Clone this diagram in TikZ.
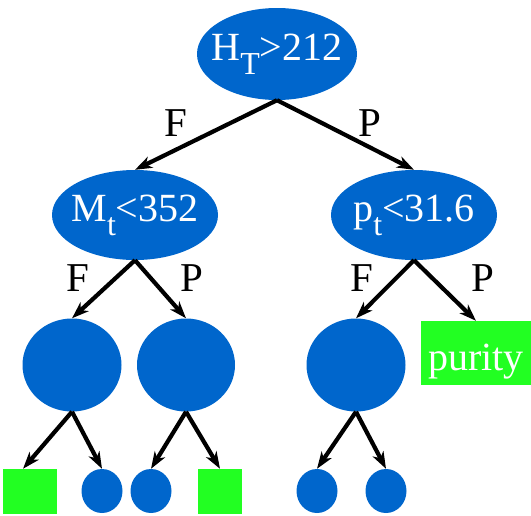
\documentclass[tikz,border=0pt]{standalone}
\usepackage{fontspec}
\setmainfont{Liberation Serif}
\usetikzlibrary{arrows.meta,shapes.geometric}
\definecolor{splitblue}{RGB}{0,102,204}
\definecolor{leafgreen}{RGB}{34,255,34}
\newcommand{\lowsub}[1]{\raisebox{-14pt}{\fontsize{32}{32}\selectfont #1}}
\newcommand{\bigtext}{\fontsize{40}{40}\selectfont}

\begin{document}
\begin{tikzpicture}[x=1pt, y=-1pt,
  split/.style={ellipse, fill=splitblue, inner sep=0pt},
  leafbox/.style={rectangle, fill=leafgreen, inner sep=0pt},
  edge/.style={line width=4.2pt, -{Stealth[length=17pt,width=12pt,inset=5pt]}},
  lbl/.style={font=\fontsize{41}{41}\selectfont, inner sep=0pt},
  every label/.style={text=white, font=\bigtext, inner sep=0pt}]
\useasboundingbox (0,0) rectangle (531,515);
% Root
\node[split, minimum width=160pt, minimum height=92pt, label={center:H\lowsub{T}>212}] (root) at (277,54) {};
% Second level
\node[split, minimum width=166pt, minimum height=90pt, label={center:M\lowsub{t}<352}] (mt) at (135,215) {};
\node[split, minimum width=166pt, minimum height=90pt, label={center:p\lowsub{t}<31.6}] (pt) at (414,215) {};
\draw[edge] (root.south) -- (mt.north); \draw[edge] (root.south) -- (pt.north);
\node[lbl] (fRoot) at (176,123) {F}; \node[lbl] (pRoot) at (370,123) {P};
% Third level
\node[split, minimum width=99pt, minimum height=93pt] (c1) at (72,365) {};
\node[split, minimum width=98pt, minimum height=93pt] (c2) at (186,365) {};
\node[split, minimum width=99pt, minimum height=93pt] (c3) at (356,365) {};
\node[leafbox, minimum width=110pt, minimum height=64pt] (purity) at (476,353) {};
\node[text=white, font=\bigtext, inner sep=0pt, anchor=base] (purityText) at (476,370) {purity};
\draw[edge] (mt.south) -- (c1.north); \draw[edge] (mt.south) -- (c2.north);
\draw[edge] (pt.south) -- (c3.north); \draw[edge] (pt.south) -- (purity.north);
\node[lbl] (fMt) at (78,278) {F}; \node[lbl] (pMt) at (192,278) {P};
\node[lbl] (fPt) at (362,278) {F}; \node[lbl] (pPt) at (483,278) {P};
% Leaves
\node[leafbox, minimum width=54pt, minimum height=45pt] (sq1) at (30,491.5) {};
\node[split, minimum width=41pt, minimum height=44pt] (c4) at (102,491) {};
\node[split, minimum width=41pt, minimum height=44pt] (c5) at (151,491) {};
\node[leafbox, minimum width=44pt, minimum height=45pt] (sq2) at (220,491.5) {};
\node[split, minimum width=41pt, minimum height=44pt] (c6) at (317,491) {};
\node[split, minimum width=41pt, minimum height=44pt] (c7) at (386,491) {};
\draw[edge] (c1.south) -- ([xshift=-7pt]sq1.north); \draw[edge] (c1.south) -- (c4.north);
\draw[edge] (c2.south) -- (c5.north); \draw[edge] (c2.south) -- (sq2.north);
\draw[edge] (c3.south) -- (c6.north); \draw[edge] (c3.south) -- (c7.north);
\end{tikzpicture}
\end{document}
